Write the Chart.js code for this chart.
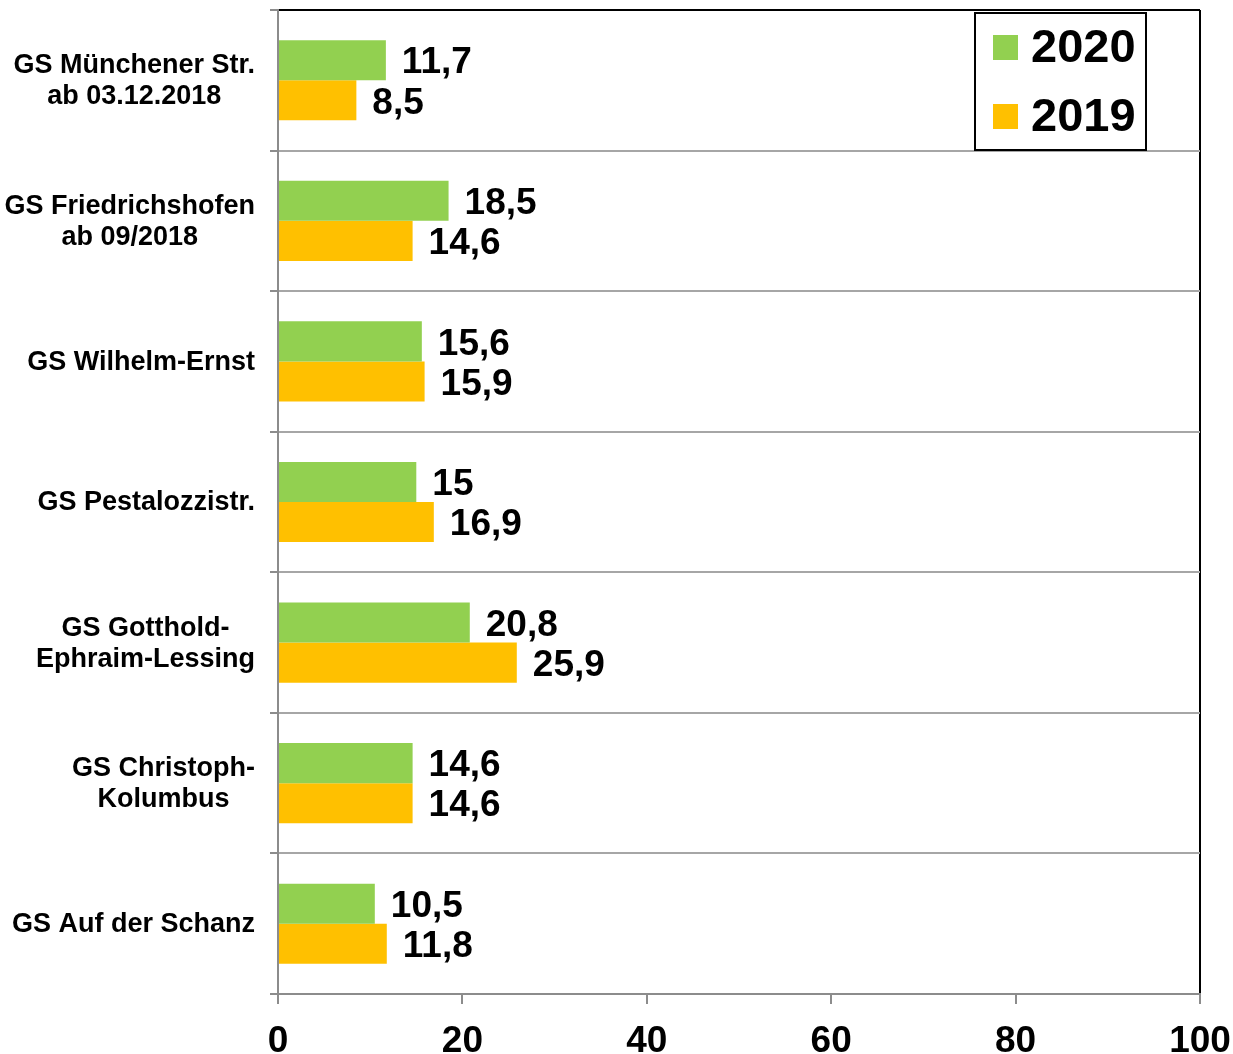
<!DOCTYPE html>
<html>
<head>
<meta charset="utf-8">
<script src="https://cdn.jsdelivr.net/npm/chart.js@4"></script>
<style>
  html, body { margin: 0; padding: 0; background: #fff; }
  #wrap { width: 1233px; height: 1054px; }
</style>
</head>
<body>
<div id="wrap"><canvas id="chart" width="1233" height="1054"></canvas></div>
<script>
const schools = [
  ['GS Münchener Str.', 'ab 03.12.2018'],
  ['GS Friedrichshofen', 'ab 09/2018'],
  ['GS Wilhelm-Ernst'],
  ['GS Pestalozzistr.'],
  ['GS Gotthold-', 'Ephraim-Lessing'],
  ['GS Christoph-', 'Kolumbus'],
  ['GS Auf der Schanz']
];
const values2020 = [11.7, 18.5, 15.6, 15, 20.8, 14.6, 10.5];
const values2019 = [8.5, 14.6, 15.9, 16.9, 25.9, 14.6, 11.8];
const xTicks = [0, 20, 40, 60, 80, 100];

const FONT = '"Liberation Sans", Arial, sans-serif';
const GREEN = '#92d050';
const ORANGE = '#ffc000';
const AXIS_GRAY = '#8c8c8c';

// category labels: each block right-aligned, lines centred within the block
const schoolLabels = {
  id: 'schoolLabels',
  afterDraw(chart) {
    const { ctx, chartArea } = chart;
    const y = chart.scales.y;
    ctx.save();
    ctx.font = 'bold 27px ' + FONT;
    ctx.fillStyle = '#000';
    ctx.textBaseline = 'middle';
    ctx.textAlign = 'center';
    const right = chartArea.left - 23;
    const lineH = 31;
    schools.forEach((lines, i) => {
      const cy = y.getPixelForValue(i);
      const w = Math.max(...lines.map((l) => ctx.measureText(l).width));
      const cx = right - w / 2;
      const top = cy - (lines.length - 1) * lineH / 2;
      lines.forEach((l, j) => ctx.fillText(l, cx, top + j * lineH + 1));
    });
    ctx.restore();
  }
};

const valueLabels = {
  id: 'valueLabels',
  afterDatasetsDraw(chart) {
    const { ctx } = chart;
    ctx.save();
    ctx.font = 'bold 37px ' + FONT;
    ctx.fillStyle = '#000';
    ctx.textAlign = 'left';
    ctx.textBaseline = 'middle';
    chart.data.datasets.forEach((ds, di) => {
      chart.getDatasetMeta(di).data.forEach((bar, i) => {
        const txt = String(ds.data[i]).replace('.', ',');
        ctx.fillText(txt, bar.x + 16, bar.y + 3);
      });
    });
    ctx.restore();
  }
};

const boxLegend = {
  id: 'boxLegend',
  afterDraw(chart) {
    const { ctx, chartArea } = chart;
    const right = chartArea.right - 54;
    const top = chartArea.top + 3;
    const w = 171, h = 137;
    const left = right - w;
    ctx.save();
    ctx.fillStyle = '#fff';
    ctx.fillRect(left, top, w, h);
    ctx.strokeStyle = '#000';
    ctx.lineWidth = 2;
    ctx.strokeRect(left, top, w, h);
    ctx.font = 'bold 47px ' + FONT;
    ctx.textBaseline = 'middle';
    ctx.textAlign = 'left';
    chart.data.datasets.forEach((ds, i) => {
      const cy = top + 34 + i * 69;
      ctx.fillStyle = ds.backgroundColor;
      ctx.fillRect(left + 18, cy - 12, 25, 25);
      ctx.fillStyle = '#000';
      ctx.fillText(ds.label, left + 56, cy + 2);
    });
    ctx.restore();
  }
};

new Chart(document.getElementById('chart'), {
  type: 'bar',
  data: {
    labels: schools.map((s) => s.join(' ')),
    datasets: [
      { label: '2020', data: values2020, backgroundColor: GREEN, barPercentage: 1.0, categoryPercentage: 0.57 },
      { label: '2019', data: values2019, backgroundColor: ORANGE, barPercentage: 1.0, categoryPercentage: 0.57 }
    ]
  },
  options: {
    indexAxis: 'y',
    responsive: false,
    animation: false,
    layout: { padding: { top: 10, right: 33, left: 0, bottom: 0 } },
    plugins: {
      legend: { display: false },
      tooltip: { enabled: false }
    },
    scales: {
      x: {
        min: 0,
        max: 100,
        afterBuildTicks(scale) {
          scale.ticks = xTicks.map((v) => ({ value: v }));
        },
        afterFit(scale) {
          scale.height = 60;
          scale.paddingLeft = 0;
          scale.paddingRight = 0;
        },
        border: { color: AXIS_GRAY, width: 2 },
        grid: {
          color: (c) => (c.tick && c.tick.value === 100 ? '#000' : 'rgba(0,0,0,0)'),
          lineWidth: 2,
          tickColor: AXIS_GRAY,
          tickLength: 10,
          drawTicks: true
        },
        ticks: {
          color: '#000',
          font: { family: FONT, size: 37, weight: 'bold' },
          padding: 16,
          maxRotation: 0
        }
      },
      y: {
        afterFit(scale) {
          scale.width = 278;
          scale.paddingTop = 0;
          scale.paddingBottom = 0;
        },
        border: { color: AXIS_GRAY, width: 2 },
        grid: {
          offset: true,
          color: (c) => (c.index === 0 ? '#000' : '#a6a6a6'),
          lineWidth: 2,
          tickColor: AXIS_GRAY,
          tickLength: 8
        },
        ticks: { display: false }
      }
    }
  },
  plugins: [valueLabels, schoolLabels, boxLegend]
});
</script>
</body>
</html>
